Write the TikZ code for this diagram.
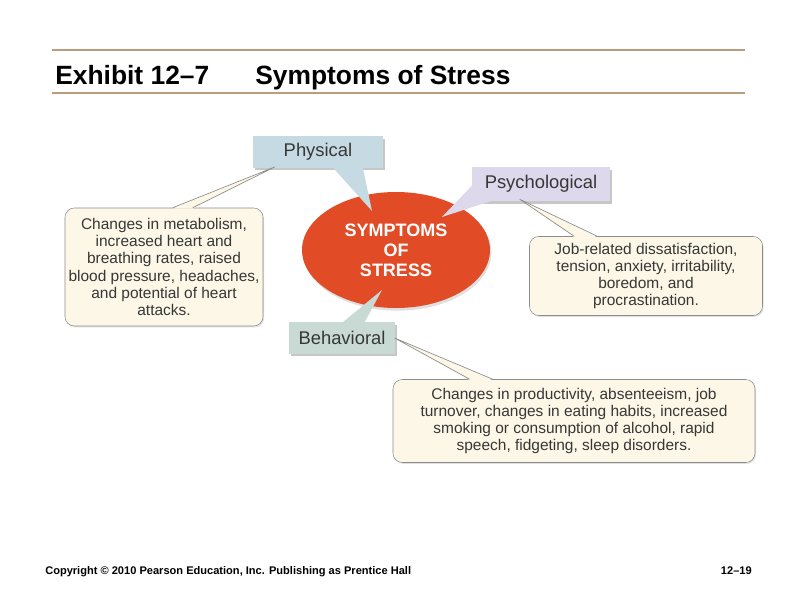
\documentclass[tikz,border=0pt]{standalone}
\usepackage{fontspec}
\setmainfont{Liberation Sans}
\usetikzlibrary{shapes.geometric, positioning, calc, shadows}

\definecolor{rulebrown}{RGB}{186,156,126}
\definecolor{physblue}{RGB}{198,218,228}
\definecolor{psychlilac}{RGB}{221,216,236}
\definecolor{behavgreen}{RGB}{201,218,212}
\definecolor{notecream}{RGB}{252,247,230}
\definecolor{noteline}{RGB}{140,140,140}
\definecolor{stressred}{RGB}{225,75,38}
\definecolor{inkgray}{RGB}{55,55,55}

\begin{document}
\begin{tikzpicture}[
    x=0.75pt, y=-0.75pt,
    tag/.style={fill=#1, text=inkgray, inner sep=0pt, minimum height=23.5pt, font=\fontsize{13.8}{16}\selectfont, drop shadow={shadow xshift=1.5pt, shadow yshift=-2pt, fill=black, opacity=0.22}},
    note/.style={draw=noteline, fill=notecream, rounded corners=7pt, text=inkgray, align=center, inner sep=0pt, font=\fontsize{11.6}{12.8}\selectfont, drop shadow={shadow xshift=0.8pt, shadow yshift=-1pt, fill=black, opacity=0.12}},
    wedge/.style={draw=noteline, line width=0.5pt, line join=miter},
]
    \useasboundingbox[fill=white] (0,0) rectangle (800,600);

    % heading
    \draw[rulebrown, line width=1.5pt] (52,50) -- (745,50);
    \draw[rulebrown, line width=1.5pt] (52,93) -- (745,93);
    \node[anchor=base west, inner sep=0pt, font=\fontsize{19.8}{22}\selectfont\bfseries] (exhibit) at (55,84) {Exhibit 12–7};
    \node[anchor=base west, inner sep=0pt, font=\fontsize{19.8}{22}\selectfont\bfseries] (title) at (255,84) {Symptoms of Stress};

    % centre
    \node[ellipse, fill=stressred, minimum width=141pt, minimum height=87pt, inner sep=0pt, text=white, align=center, font=\fontsize{13.5}{15}\selectfont\bfseries, drop shadow={shadow xshift=1pt, shadow yshift=-2pt, fill=black, opacity=0.12}] (stress) at (396,250) {SYMPTOMS\\OF\\STRESS};

    % labels
    \node[tag=physblue, minimum width=97.5pt] (physical) at (318,152) {Physical};
    \node[tag=psychlilac, minimum width=103.5pt, minimum height=25.5pt] (psych) at (541,184) {Psychological};
    \node[tag=behavgreen, minimum width=80pt] (behav) at (342,338) {Behavioral};

    % callout tails into the ellipse
    \fill[physblue] ($(physical.south west)+(80,-0.5)$) -- ($(stress.center)+(-24,-39)$) -- ($(physical.south west)+(110,-0.5)$) -- cycle;
    \fill[psychlilac] ($(psych.south west)+(0.5,-16)$) -- ($(stress.center)+(46,-33)$) -- ($(psych.south west)+(20,-0.5)$) -- cycle;
    \fill[behavgreen] ($(behav.north west)+(54,0.5)$) -- ($(stress.center)+(-14,40)$) -- ($(behav.north west)+(76,0.5)$) -- cycle;

    % descriptions
    \node[note, minimum width=148.5pt, minimum height=88.5pt] (physnote) at (164,267) {Changes in metabolism,\\increased heart and\\breathing rates, raised\\blood pressure, headaches,\\and potential of heart\\attacks.};
    \node[note, minimum width=174.75pt, minimum height=59.25pt] (psychnote) at (646,276) {Job-related dissatisfaction,\\tension, anxiety, irritability,\\boredom, and\\procrastination.};
    \node[note, minimum width=271.5pt, minimum height=62.25pt] (behavnote) at (574,421) {Changes in productivity, absenteeism, job\\turnover, changes in eating habits, increased\\smoking or consumption of alcohol, rapid\\speech, fidgeting, sleep disorders.};

    % wedges from the notes up to the labels
    \fill[notecream] ($(physnote.north west)+(108,1)$) -- ($(physical.south west)+(22,-1)$) -- ($(physnote.north west)+(128,1)$) -- cycle;
    \draw[wedge] ($(physnote.north west)+(108,0)$) -- ($(physical.south west)+(22,-1)$) -- ($(physnote.north west)+(128,0)$);
    \fill[notecream] ($(psychnote.north west)+(45,1)$) -- ($(psych.south west)+(48,-2)$) -- ($(psychnote.north west)+(68,1)$) -- cycle;
    \draw[wedge] ($(psychnote.north west)+(45,0)$) -- ($(psych.south west)+(48,-2)$) -- ($(psychnote.north west)+(68,0)$);
    \fill[notecream] ($(behavnote.north west)+(77,1)$) -- ($(behav.east)+(-1,0)$) -- ($(behavnote.north west)+(100,1)$) -- cycle;
    \draw[wedge] ($(behavnote.north west)+(77,0)$) -- ($(behav.east)+(-1,0)$) -- ($(behavnote.north west)+(100,0)$);

    % footer
    \node[anchor=base west, inner sep=0pt, font=\fontsize{8.3}{10}\selectfont\bfseries] (copyright) at (45,574) {Copyright © 2010 Pearson Education, Inc. Publishing as Prentice Hall};
    \node[anchor=base east, inner sep=0pt, font=\fontsize{8.3}{10}\selectfont\bfseries] (slideno) at (752,574) {12–19};
\end{tikzpicture}
\end{document}
